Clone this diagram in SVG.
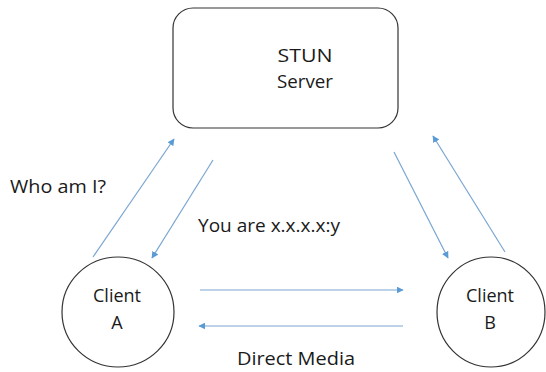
<svg xmlns="http://www.w3.org/2000/svg" width="546" height="372" viewBox="0 0 546 372">
<style>
.t{font-family:"Open Sans","Liberation Sans",sans-serif;font-size:18px;fill:#1a1a1a;text-anchor:middle}
.tl{font-family:"Open Sans","Liberation Sans",sans-serif;font-size:18px;fill:#1a1a1a}
.n{fill:#fff;stroke:#333;stroke-width:1.2}
.c{stroke:#7aa6d2;stroke-width:1.2;fill:none;marker-end:url(#ah)}
</style>
<defs>
<marker id="ah" viewBox="0 0 10 10" refX="9" refY="5" markerWidth="7" markerHeight="7" markerUnits="userSpaceOnUse" orient="auto">
<path d="M0,0 L10,5 L0,10 z" fill="#5b9bd5"/>
</marker>
</defs>
<rect width="546" height="372" fill="#fff"/>
<g id="stun">
<rect class="n" x="173" y="8" width="225" height="120" rx="20"/>
<text class="t" x="305" y="62" textLength="55" lengthAdjust="spacingAndGlyphs">STUN</text>
<text class="t" x="305" y="88" textLength="56" lengthAdjust="spacingAndGlyphs">Server</text>
</g>
<g id="clientA">
<ellipse class="n" cx="118" cy="312" rx="56" ry="55"/>
<text class="t" x="117" y="302">Client</text>
<text class="t" x="117" y="329">A</text>
</g>
<g id="clientB">
<ellipse class="n" cx="491" cy="312" rx="54" ry="55"/>
<text class="t" x="490" y="302">Client</text>
<text class="t" x="490" y="329">B</text>
</g>
<g id="connectors">
<line class="c" x1="93" y1="257" x2="174" y2="139"/>
<line class="c" x1="213" y1="160" x2="152" y2="258"/>
<line class="c" x1="394" y1="152" x2="448" y2="258"/>
<line class="c" x1="505" y1="252" x2="433" y2="136"/>
<line class="c" x1="200" y1="290" x2="403" y2="290"/>
<line class="c" x1="403" y1="326" x2="199" y2="326"/>
</g>
<g id="labels">
<text class="tl" x="10" y="193" textLength="96" lengthAdjust="spacingAndGlyphs">Who am I?</text>
<text class="tl" x="198" y="232" textLength="142" lengthAdjust="spacingAndGlyphs">You are x.x.x.x:y</text>
<text class="tl" x="237" y="365" textLength="118" lengthAdjust="spacingAndGlyphs">Direct Media</text>
</g>
</svg>
